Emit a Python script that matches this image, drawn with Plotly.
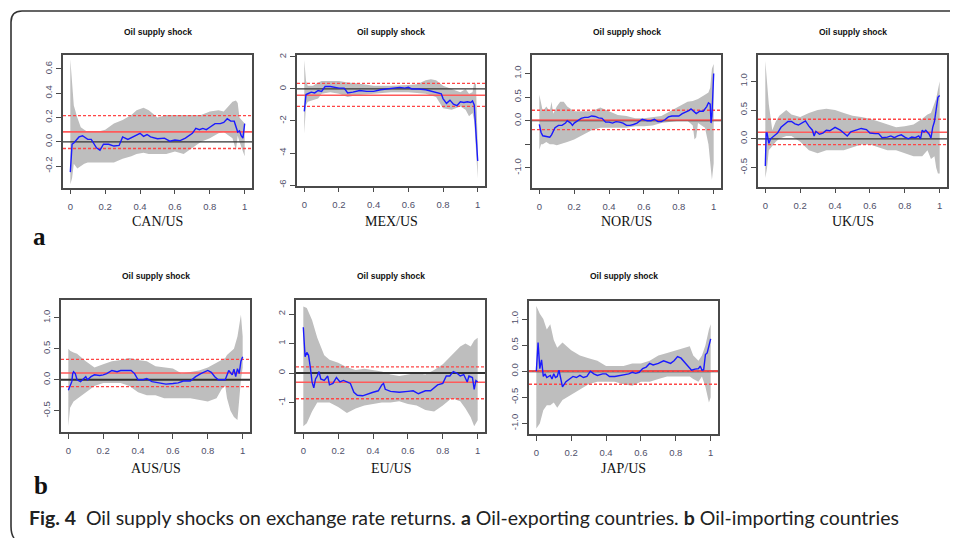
import plotly.graph_objects as go

W, H = 958, 538
OFF = 8  # page body margin of the browser

# ---------------- data ----------------
panel_names = ["CAN/US", "MEX/US", "NOR/US", "UK/US", "AUS/US", "EU/US", "JAP/US"]
panel_title = "Oil supply shock"
x_ticks = [0, 0.2, 0.4, 0.6, 0.8, 1]
x_ticktext = ["0", "0.2", "0.4", "0.6", "0.8", "1"]

# CAN/US
can_line_x = [0, 0.01, 0.02, 0.05, 0.07, 0.1, 0.12, 0.15, 0.17, 0.19, 0.22, 0.25, 0.28, 0.3, 0.33, 0.36, 0.38, 0.4,
              0.42, 0.44, 0.46, 0.5, 0.54, 0.57, 0.6, 0.63, 0.66, 0.7, 0.72, 0.74, 0.76, 0.78, 0.8, 0.83, 0.86, 0.88,
              0.9, 0.92, 0.94, 0.95, 0.96, 0.97, 0.98, 0.99, 1.0]
can_line_y = [-0.25, -0.02, -0.01, 0.04, 0.05, 0.02, 0.02, -0.05, -0.07, -0.02, -0.02, -0.035, -0.03, 0.04, 0.02,
              0.04, 0.05, 0.07, 0.045, 0.06, 0.04, 0.025, 0.03, 0.005, 0.015, 0.01, 0.03, 0.07, 0.11, 0.10, 0.11,
              0.10, 0.12, 0.15, 0.15, 0.16, 0.19, 0.17, 0.17, 0.13, 0.08, 0.09, 0.05, 0.03, 0.15]
can_band_x = [0, 0.01, 0.02, 0.04, 0.06, 0.08, 0.1, 0.12, 0.15, 0.2, 0.25, 0.3, 0.35, 0.38, 0.42, 0.45, 0.5, 0.55,
              0.6, 0.65, 0.7, 0.75, 0.8, 0.85, 0.88, 0.9, 0.93, 0.95, 0.96, 0.97, 0.98, 1.0]
can_band_hi = [0.68, 0.45, 0.30, 0.20, 0.12, 0.10, 0.08, 0.08, 0.08, 0.10, 0.15, 0.18, 0.22, 0.26, 0.28, 0.26, 0.20,
               0.22, 0.22, 0.22, 0.22, 0.22, 0.25, 0.26, 0.25, 0.28, 0.33, 0.34, 0.32, 0.20, 0.18, 0.15]
can_band_lo = [-0.35, -0.30, -0.18, -0.22, -0.20, -0.18, -0.17, -0.17, -0.17, -0.17, -0.17, -0.14, -0.12, -0.10,
               -0.09, -0.10, -0.10, -0.10, -0.08, -0.10, -0.05, 0.0, 0.03, 0.07, 0.08, 0.06, 0.03, -0.07, 0.05, 0.0,
               -0.05, -0.12]
can_ols = [0.082, 0.216, -0.055]   # estimate, upper, lower

# MEX/US
mex_line_x = [0, 0.01, 0.02, 0.04, 0.06, 0.08, 0.1, 0.12, 0.15, 0.18, 0.2, 0.23, 0.25, 0.28, 0.32, 0.36, 0.4, 0.44,
              0.48, 0.52, 0.55, 0.58, 0.6, 0.62, 0.66, 0.7, 0.74, 0.77, 0.79, 0.8, 0.82, 0.84, 0.86, 0.88, 0.9, 0.92,
              0.94, 0.96, 0.97, 0.98, 0.99, 1.0]
mex_line_y = [-1.4, -0.35, -0.3, -0.2, -0.25, -0.1, -0.15, 0.15, 0.15, 0.1, 0.05, 0.05, -0.25, -0.2, -0.1, -0.15,
              -0.15, -0.05, 0.0, 0.05, 0.1, 0.05, 0.1, 0.0, 0.0, -0.05, -0.15, -0.25, -0.3, -0.6, -0.9, -0.7, -0.95,
              -1.05, -0.8, -0.85, -0.8, -0.85, -0.75, -1.0, -2.5, -4.5]
mex_band_x = [0, 0.01, 0.02, 0.05, 0.08, 0.1, 0.15, 0.2, 0.25, 0.3, 0.4, 0.5, 0.6, 0.65, 0.7, 0.73, 0.76, 0.8, 0.85,
              0.9, 0.93, 0.95, 0.97, 0.98, 0.99, 1.0]
mex_band_hi = [1.8, 0.5, 0.2, 0.2, 0.4, 0.5, 0.5, 0.5, 0.4, 0.35, 0.2, 0.2, 0.25, 0.3, 0.55, 0.6, 0.55, 0.2, 0.0,
               -0.2, 0.0, -0.3, -0.2, 0.4, 0.3, -3.5]
mex_band_lo = [-2.8, -1.0, -0.8, -0.7, -0.6, -0.3, -0.2, -0.3, -0.5, -0.4, -0.3, -0.2, -0.2, -0.25, -0.3, -0.4, -0.5,
               -1.2, -1.3, -1.1, -1.3, -1.7, -1.5, -2.0, -3.5, -5.6]
mex_ols = [-0.39, 0.35, -1.09]

# NOR/US
nor_line_x = [0, 0.01, 0.02, 0.04, 0.06, 0.07, 0.09, 0.11, 0.13, 0.15, 0.16, 0.18, 0.19, 0.2, 0.22, 0.24, 0.26, 0.28,
              0.3, 0.32, 0.34, 0.36, 0.38, 0.4, 0.42, 0.44, 0.46, 0.48, 0.5, 0.52, 0.54, 0.56, 0.59, 0.62, 0.64, 0.66,
              0.68, 0.7, 0.72, 0.74, 0.76, 0.8, 0.82, 0.84, 0.86, 0.87, 0.88, 0.9, 0.92, 0.94, 0.96, 0.97, 0.98,
              0.985, 0.99, 1.0]
nor_line_y = [-0.08, -0.25, -0.32, -0.33, -0.35, -0.3, -0.15, -0.1, -0.1, -0.05, 0.0, -0.05, -0.1, -0.05, 0.0, 0.05,
              0.07, 0.07, 0.1, 0.09, 0.06, 0.05, -0.03, -0.03, -0.05, -0.02, -0.03, -0.05, -0.1, -0.1, -0.08, -0.05,
              0.03, 0.0, 0.0, 0.03, -0.02, -0.02, 0.02, 0.08, 0.1, 0.1, 0.15, 0.18, 0.22, 0.25, 0.22, 0.15, 0.2, 0.2,
              0.3, 0.38, 0.35, -0.05, 0.1, 1.0]
nor_band_x = [0, 0.01, 0.02, 0.04, 0.06, 0.07, 0.08, 0.1, 0.12, 0.14, 0.16, 0.2, 0.25, 0.3, 0.35, 0.4, 0.45, 0.5,
              0.55, 0.6, 0.65, 0.7, 0.75, 0.8, 0.85, 0.88, 0.89, 0.9, 0.91, 0.95, 0.97, 0.98, 0.99, 1.0]
nor_band_hi = [0.55, 0.4, 0.2, 0.3, 0.2, 0.4, 0.15, 0.3, 0.4, 0.4, 0.3, 0.2, 0.2, 0.2, 0.28, 0.2, 0.12, 0.1, 0.05,
               0.05, 0.08, 0.1, 0.2, 0.3, 0.4, 0.42, 0.43, 0.45, 0.46, 0.55, 0.6, 0.7, 1.1, 1.2]
nor_band_lo = [-0.62, -0.5, -0.5, -0.45, -0.5, -0.5, -0.5, -0.52, -0.5, -0.47, -0.45, -0.4, -0.3, -0.2, -0.15, -0.15,
               -0.15, -0.15, -0.12, -0.12, -0.1, -0.05, -0.02, 0.0, 0.0, -0.1, -0.4, -0.35, -0.05, -0.15, -0.5, -0.9,
               -1.25, -0.9]
nor_ols = [0.014, 0.22, -0.19]

# UK/US
uk_line_x = [0, 0.005, 0.01, 0.02, 0.03, 0.05, 0.07, 0.09, 0.11, 0.13, 0.15, 0.17, 0.19, 0.21, 0.23, 0.25, 0.27,
             0.28, 0.29, 0.31, 0.33, 0.35, 0.37, 0.4, 0.43, 0.45, 0.47, 0.49, 0.52, 0.55, 0.58, 0.6, 0.63, 0.65,
             0.67, 0.7, 0.72, 0.74, 0.76, 0.78, 0.8, 0.82, 0.84, 0.86, 0.88, 0.89, 0.9, 0.91, 0.92, 0.94, 0.95, 0.96,
             0.97, 0.98, 0.99, 1.0]
uk_line_y = [-0.47, 0.1, 0.1, -0.08, 0.0, 0.05, 0.1, 0.2, 0.25, 0.3, 0.3, 0.26, 0.24, 0.28, 0.31, 0.22, 0.15, 0.05,
             0.13, 0.08, 0.1, 0.15, 0.14, 0.2, 0.15, 0.1, 0.05, 0.12, 0.15, 0.18, 0.16, 0.1, 0.09, 0.09, 0.02, 0.03,
             0.05, 0.02, 0.05, 0.07, 0.03, 0.0, 0.03, 0.02, 0.05, 0.0, 0.15, 0.12, 0.15, 0.08, 0.01, 0.2, 0.3, 0.5,
             0.72, 0.75]
uk_band_x = [0, 0.01, 0.02, 0.04, 0.06, 0.08, 0.1, 0.12, 0.15, 0.2, 0.25, 0.3, 0.35, 0.4, 0.45, 0.5, 0.55, 0.6,
             0.65, 0.7, 0.75, 0.8, 0.85, 0.9, 0.93, 0.95, 0.97, 0.98, 0.99, 1.0]
uk_band_hi = [1.35, 1.0, 0.6, 0.15, 0.3, 0.4, 0.45, 0.5, 0.42, 0.38, 0.45, 0.5, 0.52, 0.5, 0.45, 0.4, 0.38, 0.35,
              0.3, 0.25, 0.2, 0.22, 0.25, 0.35, 0.42, 0.45, 0.6, 0.7, 0.85, 1.0]
uk_band_lo = [-0.68, -0.5, -0.2, -0.12, -0.05, 0.0, 0.02, 0.05, 0.05, -0.05, -0.2, -0.25, -0.2, -0.2, -0.2, -0.15,
              -0.1, -0.1, -0.15, -0.2, -0.2, -0.25, -0.3, -0.3, -0.2, -0.35, -0.3, -0.5, -0.6, -0.6]
uk_ols = [0.114, 0.34, -0.10]

# AUS/US
aus_line_x = [0, 0.01, 0.02, 0.025, 0.03, 0.04, 0.05, 0.07, 0.09, 0.1, 0.11, 0.13, 0.15, 0.18, 0.2, 0.22, 0.25,
              0.28, 0.3, 0.33, 0.36, 0.38, 0.4, 0.43, 0.45, 0.48, 0.5, 0.53, 0.56, 0.6, 0.63, 0.66, 0.7, 0.73, 0.76,
              0.8, 0.82, 0.84, 0.86, 0.88, 0.9, 0.92, 0.94, 0.95, 0.96, 0.97, 0.98, 0.99, 1.0]
aus_line_y = [-0.17, -0.1, -0.03, 0.1, 0.13, 0.1, 0.0, -0.03, 0.02, 0.05, 0.0, 0.05, 0.08, 0.07, 0.08, 0.1, 0.15,
              0.13, 0.15, 0.15, 0.15, 0.1, 0.0, 0.0, 0.02, -0.03, -0.04, -0.05, -0.07, -0.06, -0.05, -0.02, -0.02,
              0.05, 0.1, 0.15, 0.12, 0.05, 0.0, 0.0, 0.0, 0.15, 0.08, 0.17, 0.05, 0.18, 0.1, 0.3, 0.37]
aus_band_x = [0, 0.01, 0.03, 0.05, 0.1, 0.15, 0.2, 0.25, 0.3, 0.35, 0.4, 0.45, 0.5, 0.55, 0.6, 0.65, 0.7, 0.75, 0.8,
              0.85, 0.88, 0.9, 0.91, 0.93, 0.95, 0.97, 0.98, 0.99, 1.0]
aus_band_hi = [0.5, 0.47, 0.44, 0.42, 0.3, 0.2, 0.25, 0.3, 0.32, 0.35, 0.32, 0.3, 0.22, 0.2, 0.18, 0.1, 0.12, 0.15,
               0.2, 0.28, 0.32, 0.35, 0.4, 0.45, 0.5, 0.7, 0.9, 1.05, 0.7]
aus_band_lo = [-0.75, -0.45, -0.35, -0.3, -0.2, -0.1, -0.05, -0.05, -0.05, -0.1, -0.2, -0.25, -0.25, -0.3, -0.3,
               -0.3, -0.3, -0.32, -0.35, -0.3, -0.15, -0.1, -0.3, -0.5, -0.6, -0.65, -0.4, 0.0, 0.2]
aus_ols = [0.11, 0.33, -0.11]

# EU/US
eu_line_x = [0, 0.01, 0.02, 0.03, 0.04, 0.05, 0.06, 0.07, 0.08, 0.09, 0.1, 0.12, 0.14, 0.15, 0.17, 0.19, 0.21, 0.23,
             0.25, 0.27, 0.29, 0.31, 0.34, 0.37, 0.4, 0.43, 0.45, 0.46, 0.47, 0.5, 0.55, 0.6, 0.63, 0.66, 0.7, 0.73,
             0.75, 0.77, 0.8, 0.82, 0.84, 0.86, 0.88, 0.9, 0.92, 0.94, 0.95, 0.97, 0.98, 0.99, 1.0]
eu_line_y = [1.55, 0.55, 0.7, 0.6, 0.2, -0.3, -0.5, -0.2, -0.1, 0.05, -0.2, -0.25, -0.1, -0.4, -0.35, -0.15, -0.3,
             -0.25, -0.3, -0.35, -0.65, -0.75, -0.77, -0.7, -0.65, -0.6, -0.4, -0.35, -0.55, -0.62, -0.65, -0.62,
             -0.6, -0.7, -0.6, -0.6, -0.5, -0.4, -0.35, -0.1, -0.1, 0.05, 0.0, -0.1, -0.05, -0.3, -0.1, -0.15,
             -0.55, -0.25, -0.3]
eu_band_x = [0, 0.02, 0.05, 0.08, 0.1, 0.12, 0.15, 0.2, 0.25, 0.3, 0.35, 0.4, 0.45, 0.5, 0.55, 0.6, 0.65, 0.7, 0.75,
             0.8, 0.85, 0.9, 0.93, 0.96, 0.98, 1.0]
eu_band_hi = [2.25, 2.2, 1.8, 1.2, 0.9, 0.6, 0.45, 0.35, 0.2, 0.1, 0.15, 0.1, 0.05, -0.05, -0.1, -0.05, 0.0, -0.05,
              0.1, 0.3, 0.6, 0.9, 1.0, 0.9, 1.1, 1.2]
eu_band_lo = [-1.8, -1.7, -1.3, -1.0, -1.0, -1.0, -1.0, -1.15, -1.35, -1.2, -1.1, -1.05, -1.0, -1.0, -0.95, -1.05,
              -1.1, -1.25, -1.3, -1.1, -0.85, -0.95, -1.2, -1.5, -1.8, -1.6]
eu_ols = [-0.31, 0.21, -0.87]

# JAP/US
jap_line_x = [0, 0.01, 0.02, 0.03, 0.04, 0.05, 0.06, 0.08, 0.09, 0.1, 0.11, 0.12, 0.13, 0.14, 0.15, 0.17, 0.19, 0.21,
              0.23, 0.25, 0.27, 0.29, 0.31, 0.33, 0.35, 0.38, 0.4, 0.42, 0.45, 0.48, 0.5, 0.53, 0.55, 0.57, 0.59,
              0.61, 0.63, 0.65, 0.67, 0.7, 0.73, 0.75, 0.77, 0.79, 0.81, 0.83, 0.85, 0.87, 0.89, 0.91, 0.93, 0.94,
              0.95, 0.96, 0.97, 0.98, 0.99, 1.0]
jap_line_y = [0.0, 0.55, 0.05, 0.22, -0.1, -0.05, -0.12, -0.08, -0.15, -0.05, -0.12, -0.1, 0.02, -0.15, -0.3, -0.2,
              -0.15, -0.1, -0.12, -0.08, -0.12, -0.1, 0.0, -0.05, -0.08, -0.05, -0.05, -0.1, -0.1, -0.08, -0.07,
              -0.05, -0.02, -0.04, -0.02, 0.05, 0.08, 0.15, 0.12, 0.15, 0.2, 0.18, 0.15, 0.2, 0.28, 0.25, 0.18, 0.1,
              0.02, 0.04, 0.05, 0.1, 0.02, 0.03, 0.32, 0.35, 0.5, 0.62]
jap_band_x = [0, 0.02, 0.04, 0.06, 0.08, 0.1, 0.12, 0.15, 0.2, 0.25, 0.3, 0.35, 0.4, 0.45, 0.5, 0.55, 0.6, 0.65,
              0.7, 0.75, 0.8, 0.85, 0.88, 0.9, 0.93, 0.95, 0.97, 0.99, 1.0]
jap_band_hi = [1.25, 1.1, 1.0, 0.8, 0.9, 0.6, 0.45, 0.55, 0.4, 0.3, 0.25, 0.2, 0.1, 0.1, 0.1, 0.15, 0.15, 0.2, 0.3,
               0.35, 0.4, 0.45, 0.48, 0.3, 0.2, 0.3, 0.5, 0.8, 0.9]
jap_band_lo = [-1.1, -1.0, -0.75, -0.65, -0.65, -0.6, -0.7, -0.55, -0.45, -0.35, -0.25, -0.2, -0.2, -0.2, -0.25,
               -0.28, -0.2, -0.2, -0.15, -0.1, -0.1, -0.1, -0.1, -0.15, -0.2, -0.1, -0.3, -0.6, -0.5]
jap_ols = [0.005, 0.0, -0.25]

# y tick values / labels per panel
can_yticks = [-0.2, 0.0, 0.2, 0.4, 0.6]
can_yticktext = ["-0.2", "0.0", "0.2", "0.4", "0.6"]
mex_yticks = [-6, -4, -2, 0, 2]
mex_yticktext = ["-6", "-4", "-2", "0", "2"]
nor_yticks = [-1.0, -0.5, 0.0, 0.5, 1.0]
nor_yticktext = ["-1.0", "", "0.0", "0.5", "1.0"]
uk_yticks = [-0.5, 0.0, 0.5, 1.0]
uk_yticktext = ["-0.5", "0.0", "0.5", "1.0"]
aus_yticks = [-0.5, 0.0, 0.5, 1.0]
aus_yticktext = ["-0.5", "0.0", "0.5", "1.0"]
eu_yticks = [-1, 0, 1, 2]
eu_yticktext = ["-1", "0", "1", "2"]
jap_yticks = [-1.0, -0.5, 0.0, 0.5, 1.0]
jap_yticktext = ["-1.0", "-0.5", "0.0", "0.5", "1.0"]

caption = ("<b>Fig. 4</b>\u00a0\u00a0Oil supply shocks on exchange rate returns. <b>a</b> Oil-exporting countries. "
           "<b>b</b> Oil-importing countries")

# ---------------- layout (pixel boxes in the page) ----------------
XR = [-0.042, 1.042]
panels = [
    dict(name=panel_names[0], lx=can_line_x, ly=can_line_y, bx=can_band_x, bh=can_band_hi, bl=can_band_lo,
         ols=can_ols, yt=can_yticks, ytt=can_yticktext, yr=[-0.378, 0.718], box=(63, 53, 252, 187), zw=1.2),
    dict(name=panel_names[1], lx=mex_line_x, ly=mex_line_y, bx=mex_band_x, bh=mex_band_hi, bl=mex_band_lo,
         ols=mex_ols, yt=mex_yticks, ytt=mex_yticktext, yr=[-6.04, 2.14], box=(297, 53, 485, 185), zw=1.2),
    dict(name=panel_names[2], lx=nor_line_x, ly=nor_line_y, bx=nor_band_x, bh=nor_band_hi, bl=nor_band_lo,
         ols=nor_ols, yt=nor_yticks, ytt=nor_yticktext, yr=[-1.42, 1.40], box=(532, 53, 721, 187), zw=1.2),
    dict(name=panel_names[3], lx=uk_line_x, ly=uk_line_y, bx=uk_band_x, bh=uk_band_hi, bl=uk_band_lo,
         ols=uk_ols, yt=uk_yticks, ytt=uk_yticktext, yr=[-0.83, 1.46], box=(758, 53, 947, 186), zw=1.2),
    dict(name=panel_names[4], lx=aus_line_x, ly=aus_line_y, bx=aus_band_x, bh=aus_band_hi, bl=aus_band_lo,
         ols=aus_ols, yt=aus_yticks, ytt=aus_yticktext, yr=[-0.84, 1.29], box=(61, 300, 250, 433), zw=2),
    dict(name=panel_names[5], lx=eu_line_x, ly=eu_line_y, bx=eu_band_x, bh=eu_band_hi, bl=eu_band_lo,
         ols=eu_ols, yt=eu_yticks, ytt=eu_yticktext, yr=[-1.99, 2.48], box=(296, 300, 485, 433), zw=2),
    dict(name=panel_names[6], lx=jap_line_x, ly=jap_line_y, bx=jap_band_x, bh=jap_band_hi, bl=jap_band_lo,
         ols=jap_ols, yt=jap_yticks, ytt=jap_yticktext, yr=[-1.20, 1.35], box=(529, 301, 718, 435), zw=2),
]

def px(x):
    return (x - OFF) / W

def py(y):
    return 1 - (y - OFF) / H

fig = go.Figure()
layout = dict(width=W, height=H, margin=dict(l=0, r=0, t=0, b=0), showlegend=False,
              paper_bgcolor="white", plot_bgcolor="white")
annotations = []
tickfont = dict(family="Liberation Sans, Arial", size=9.5, color="#50506a")

for i, p in enumerate(panels, start=1):
    xa = "x" if i == 1 else f"x{i}"
    ya = "y" if i == 1 else f"y{i}"
    l, t, r, b = p["box"]
    # gray quantile band
    fig.add_trace(go.Scatter(x=p["bx"] + p["bx"][::-1], y=p["bh"] + p["bl"][::-1], fill="toself",
                             fillcolor="#bebebe", line=dict(width=0, color="#bebebe"), mode="lines",
                             xaxis=xa, yaxis=ya, hoverinfo="skip"))
    # zero line
    fig.add_trace(go.Scatter(x=XR, y=[0, 0], mode="lines", line=dict(color="#333333", width=p["zw"]),
                             xaxis=xa, yaxis=ya))
    # OLS estimate and bounds
    fig.add_trace(go.Scatter(x=XR, y=[p["ols"][0]] * 2, mode="lines", line=dict(color="#ff5a5a", width=1.6),
                             xaxis=xa, yaxis=ya))
    for v in p["ols"][1:]:
        fig.add_trace(go.Scatter(x=XR, y=[v, v], mode="lines",
                                 line=dict(color="#ff4646", width=1.4, dash="3px,2px"), xaxis=xa, yaxis=ya))
    # quantile estimates
    fig.add_trace(go.Scatter(x=p["lx"], y=p["ly"], mode="lines", line=dict(color="#1a1aff", width=1.4),
                             xaxis=xa, yaxis=ya))
    axkey_x = "xaxis" if i == 1 else f"xaxis{i}"
    axkey_y = "yaxis" if i == 1 else f"yaxis{i}"
    layout[axkey_x] = dict(domain=[px(l), px(r)], range=XR, anchor=ya, tickvals=x_ticks, ticktext=x_ticktext,
                           showgrid=False, zeroline=False, showline=True, mirror=True, linecolor="#4a4a4a",
                           linewidth=1.5, ticks="outside", ticklen=5, tickcolor="#4a4a4a", tickwidth=1,
                           tickfont=tickfont, ticklabelstandoff=4)
    layout[axkey_y] = dict(domain=[py(b), py(t)], range=p["yr"], anchor=xa, tickvals=p["yt"], ticktext=p["ytt"],
                           showgrid=False, zeroline=False, showline=True, mirror=True, linecolor="#4a4a4a",
                           linewidth=1.5, ticks="outside", ticklen=5, tickcolor="#4a4a4a", tickwidth=1,
                           tickfont=tickfont, tickangle=-90)
    cx = (l + r) / 2
    ty = 30 if i <= 4 else 276
    ly_ = 221 if i <= 4 else 470
    annotations.append(dict(text=f"<b>{panel_title}</b>", x=px(cx), y=py(ty), xref="paper", yref="paper",
                            showarrow=False, xanchor="center", yanchor="middle",
                            font=dict(family="Liberation Sans, Arial", size=8.5, color="#111111")))
    annotations.append(dict(text=p["name"], x=px(cx), y=py(ly_), xref="paper", yref="paper", showarrow=False,
                            xanchor="center", yanchor="middle",
                            font=dict(family="Liberation Serif, Times New Roman", size=14, color="#111111")))

annotations.append(dict(text="<b>a</b>", x=px(40), y=py(236), xref="paper", yref="paper", showarrow=False,
                        xanchor="center", yanchor="middle",
                        font=dict(family="Liberation Serif", size=25, color="#111111")))
annotations.append(dict(text="<b>b</b>", x=px(41), y=py(487), xref="paper", yref="paper", showarrow=False,
                        xanchor="center", yanchor="middle",
                        font=dict(family="Liberation Serif", size=25, color="#111111")))
annotations.append(dict(text=caption, x=px(27), y=py(519), xref="paper", yref="paper", showarrow=False,
                        xanchor="left", yanchor="middle",
                        font=dict(family="Lato, Liberation Sans", size=19.5, color="#222222")))
layout["annotations"] = annotations

# outer rounded frame
frame_path = (f"M {px(966)},{py(9)} L {px(22)},{py(9)} Q {px(11)},{py(9)} {px(11)},{py(20)} "
              f"L {px(11)},{py(528)} Q {px(11)},{py(536)} {px(14)},{py(540)}")
layout["shapes"] = [dict(type="path", path=frame_path, xref="paper", yref="paper",
                         line=dict(color="#333333", width=1.6), layer="above")]

fig.update_layout(**layout)
fig.write_html("out.html")
